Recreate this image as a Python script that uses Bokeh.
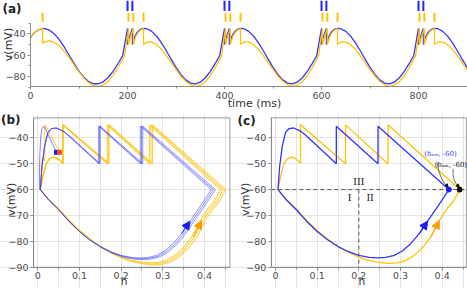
import math
from bokeh.plotting import figure
from bokeh.layouts import column, row
from bokeh.models import FixedTicker, Label, Arrow, NormalHead
from bokeh.embed import file_html
from bokeh.resources import INLINE

BLUE = "#3434ff"
ORANGE = "#ffc20a"
BLUE_DARK = "#1a1aff"
ORANGE_DARK = "#ff9c00"
SPIKE_RED = "#ff4d1a"

# ---------------- panel (a): membrane voltage traces ----------------
time_ticks = [0, 200, 400, 600, 800]
time_minor = [100, 300, 500, 700, 900]
va_ticks = [-80, -60, -40]
va_minor = [-90, -70, -50, -30]
cycle_starts = [200, 400, 600, 800]

blue_init_t = [0, 5, 10, 15, 20, 25, 30, 40, 50, 60, 70, 80, 90, 100, 110, 120, 130, 140, 150, 160, 170, 180, 190]
blue_init_v = [-43.5, -40.5, -38.3, -36.6, -35.5, -35.0, -35.2, -36.8, -40.5, -46.0, -52.8, -60.3, -68.0, -75.0,
               -80.8, -84.8, -86.8, -86.8, -85.0, -81.0, -75.3, -68.3, -60.6]
blue_cycle_tau = [0, 0, 5, 10, 10, 15, 20, 25, 30, 35, 40, 50, 60, 70, 80, 90, 100, 110, 120, 130, 140, 150, 160,
                  170, 180, 190]
blue_cycle_v = [-35.0, -50.0, -41.5, -35.0, -50.0, -42.5, -38.5, -36.3, -35.2, -35.0, -35.3, -37.7, -42.2, -48.5,
                -55.9, -63.8, -71.4, -78.1, -83.2, -86.2, -86.9, -85.3, -81.4, -75.6, -68.5, -60.6]

orange_init_t = [0, 5, 10, 15, 20, 25, 25, 30, 35, 40, 45, 50, 60, 70, 80, 90, 100, 110, 120, 130, 140, 150, 160,
                 170, 180, 190, 194]
orange_init_v = [-43.5, -40.5, -38.3, -36.6, -35.5, -35.0, -49.0, -47.5, -46.8, -46.7, -47.2, -48.3, -51.5, -56.5,
                 -62.5, -69.3, -75.8, -81.5, -85.8, -88.5, -89.2, -88.0, -84.5, -79.0, -71.8, -63.8, -60.5]
orange_cycle_tau = [2, 2, 7, 12, 12, 17, 22, 27, 33, 33, 38, 43, 48, 55, 60, 70, 80, 90, 100, 110, 120, 130, 140,
                    150, 160, 170, 180, 190, 194]
orange_cycle_v = [-35.0, -50.0, -41.5, -35.0, -50.0, -42.5, -38.8, -36.5, -35.0, -50.0, -48.3, -47.5, -47.5, -48.8,
                  -50.2, -54.5, -60.5, -67.0, -73.5, -79.5, -84.5, -87.8, -89.2, -88.2, -85.0, -79.5, -72.5, -64.0,
                  -60.5]

blue_spikes = [200, 210, 400, 410, 600, 610, 800, 810]
orange_spikes = [25, 202, 212, 233, 402, 412, 433, 602, 612, 633, 802, 812, 833]

# ---------------- panels (b), (c): phase plane (h, v) ----------------
h_ticks = [0, 0.1, 0.2, 0.3, 0.4]
h_minor = [0.05, 0.15, 0.25, 0.35, 0.45]
v_ticks = [-90, -80, -70, -60, -50, -40]
v_switch = -60
h_split = 0.2

# spiking / upper part, starting at the right corner
blue_upper_h = [0.416, 0.246, 0.246, 0.146, 0.146, 0.09, 0.076, 0.06, 0.044, 0.032, 0.024, 0.016, 0.01, 0.006]
blue_upper_v = [-60.0, -35.5, -50.0, -35.5, -50.0, -41.6, -39.5, -37.4, -36.2, -36.5, -38.0, -43.4, -51.0, -60.0]
# slow lower arc, left to right
blue_lower_h = [0.006, 0.025, 0.05, 0.075, 0.1, 0.125, 0.15, 0.175, 0.2, 0.225, 0.245, 0.265, 0.285, 0.305, 0.325,
                0.345, 0.365, 0.385, 0.40, 0.416]
blue_lower_v = [-60.0, -63.8, -67.8, -72.3, -76.2, -79.4, -82.0, -84.0, -85.4, -86.2, -86.4, -86.2, -85.4, -83.6,
                -80.8, -77.0, -72.2, -67.5, -64.0, -60.0]

orange_upper_h = [0.442, 0.27, 0.27, 0.168, 0.168, 0.06, 0.06, 0.053, 0.045, 0.036, 0.028, 0.02, 0.012, 0.006]
orange_upper_v = [-60.0, -35.0, -50.0, -35.0, -50.0, -35.0, -50.0, -48.7, -47.8, -47.5, -48.2, -50.0, -55.0, -60.0]
orange_lower_h = [0.006, 0.025, 0.05, 0.075, 0.1, 0.125, 0.15, 0.175, 0.2, 0.225, 0.25, 0.273, 0.293, 0.313, 0.333,
                  0.353, 0.373, 0.393, 0.413, 0.428, 0.442]
orange_lower_v = [-60.0, -63.6, -67.5, -71.9, -75.8, -79.1, -81.9, -84.2, -86.1, -87.4, -88.2, -88.5, -88.3, -87.4,
                  -85.4, -82.4, -78.3, -72.0, -67.1, -64.3, -60.0]

# initial transients in (b)
blue_start_h = [0.045, 0.035, 0.026, 0.019, 0.014, 0.01, 0.007, 0.005, 0.004, 0.0045]
blue_start_v = [-45.6, -42.3, -39.2, -36.8, -35.6, -36.5, -40.0, -46.0, -53.0, -60.0]
orange_start_h = [0.052, 0.04, 0.03, 0.022, 0.017, 0.017, 0.013, 0.01, 0.008, 0.006]
orange_start_v = [-45.6, -41.8, -38.6, -36.2, -35.0, -49.0, -47.5, -48.5, -53.0, -60.0]

# lap-to-lap drift of the trajectories in (b)
blue_laps = [1.0, 1.012, 1.024]
orange_laps = [0.992, 1.006, 1.02]

# axis extents
T_LO, T_HI = 0, 901
VA_LO, VA_HI = -89.4, -8.8
H_LO = -0.01
H_HI_B, H_HI_C = 0.461, 0.458
V_LO, V_HI = -90, -32.3


def trace(init_t, init_v, cyc_t, cyc_v):
    t, v = list(init_t), list(init_v)
    for s in cycle_starts:
        t += [s + x for x in cyc_t]
        v += list(cyc_v)
    return t, v


def lap(uh, uv, lh, lv, f):
    h = [x * f for x in uh] + [x * f for x in lh[1:]]
    v = list(uv) + [v_switch + (y - v_switch) * f for y in lv[1:]]
    return h, v


def style_axes(p):
    for ax in p.axis:
        ax.axis_line_color = "#8c8c8c"
        ax.major_tick_line_color = "#8c8c8c"
        ax.minor_tick_line_color = "#8c8c8c"
        ax.major_tick_out = 3
        ax.major_tick_in = 0
        ax.minor_tick_out = 2
        ax.minor_tick_in = 0
        ax.major_label_text_font = "DejaVu Sans"
        ax.major_label_text_font_size = "9.5px"
        ax.major_label_text_color = "#4d4d4d"
        ax.major_label_standoff = 2


def text(p, s, x, y, size="11px", font="DejaVu Sans", color="#333333", angle=0.0, style="normal",
         align="center"):
    p.add_layout(Label(x=x, y=y, text=s, text_font=font, text_font_size=size, text_color=color,
                       text_font_style=style, text_align=align, text_baseline="middle", angle=angle,
                       angle_units="rad"))


def panel_label(p, s, x, y):
    text(p, s, x, y, size="12px", color="#222222", style="bold", align="left")


def bare_figure(width, height, xr, yr):
    # the frame fills the whole figure; the axes are pinned inside it
    return figure(width=width, height=height, x_range=xr, y_range=yr, output_backend="svg",
                  toolbar_location=None, min_border_left=0, min_border_right=0, min_border_top=0,
                  min_border_bottom=0)


# ---------------- figure (a) ----------------
pa = bare_figure(467, 114, (-61.9, T_HI), (-115.6, VA_HI))
pa.outline_line_color = None
pa.grid.visible = False
pa.xaxis.ticker = FixedTicker(ticks=time_ticks, minor_ticks=time_minor)
pa.yaxis.ticker = FixedTicker(ticks=va_ticks, minor_ticks=va_minor)
pa.yaxis.fixed_location = T_LO
pa.xaxis.fixed_location = VA_LO
pa.yaxis.bounds = (VA_LO, -30)
pa.xaxis.bounds = (T_LO, T_HI)
style_axes(pa)
text(pa, "time (ms)", 461.8, -105.5)
text(pa, "v(mV)", -44.4, -50.0, angle=math.pi / 2)

bt, bv = trace(blue_init_t, blue_init_v, blue_cycle_tau, blue_cycle_v)
ot, ov = trace(orange_init_t, orange_init_v, orange_cycle_tau, orange_cycle_v)
pa.line(bt, bv, color=BLUE, line_width=1.3)
pa.line(ot, ov, color=ORANGE, line_width=1.3)
pa.segment(x0=blue_spikes, y0=-18.6, x1=blue_spikes, y1=VA_HI, color="#2424ff", line_width=2)
pa.segment(x0=orange_spikes, y0=-28.6, x1=orange_spikes, y1=-20.2, color=ORANGE, line_width=2)
panel_label(pa, "(a)", -57.8, -17.2)


# ---------------- figures (b), (c) ----------------
def phase_fig(width, x_left, x_right, h_hi, ylab_x):
    p = bare_figure(width, 174, (x_left, x_right), (-98.2, -31.0))
    p.outline_line_color = None
    p.xaxis.ticker = FixedTicker(ticks=h_ticks, minor_ticks=h_minor)
    p.yaxis.ticker = FixedTicker(ticks=v_ticks)
    p.yaxis.fixed_location = H_LO
    p.xaxis.fixed_location = V_LO
    p.yaxis.bounds = (V_LO, V_HI)
    p.xaxis.bounds = (H_LO, h_hi)
    p.xgrid.grid_line_color = "#e4e4e4"
    p.xgrid.minor_grid_line_color = "#e4e4e4"
    p.xgrid.bounds = (V_LO, V_HI)
    p.ygrid.grid_line_color = "#e4e4e4"
    p.ygrid.bounds = (H_LO, h_hi)
    p.quad(left=H_LO, right=h_hi, bottom=V_LO, top=V_HI, fill_color=None, line_color="#9a9a9a", line_width=1)
    style_axes(p)
    text(p, "h", 0.207, -95.3, size="10.5px")
    text(p, "v(mV)", ylab_x, -63.8, angle=math.pi / 2)
    return p


ib = 16
io = 17


def lower_arrows(p):
    p.add_layout(Arrow(end=NormalHead(size=8, fill_color=BLUE_DARK, line_color=BLUE_DARK),
                       x_start=blue_lower_h[ib - 1], y_start=blue_lower_v[ib - 1],
                       x_end=blue_lower_h[ib], y_end=blue_lower_v[ib], line_color=BLUE_DARK, line_width=1))
    p.add_layout(Arrow(end=NormalHead(size=8, fill_color=ORANGE_DARK, line_color=ORANGE_DARK),
                       x_start=orange_lower_h[io - 1], y_start=orange_lower_v[io - 1],
                       x_end=orange_lower_h[io], y_end=orange_lower_v[io], line_color=ORANGE_DARK, line_width=1))


pb = phase_fig(235, -0.0895, 0.4744, H_HI_B, -0.0631)
for f in orange_laps:
    h, v = lap(orange_upper_h, orange_upper_v, orange_lower_h, orange_lower_v, f)
    pb.line(h, v, color=ORANGE, line_width=1.1, alpha=0.75)
pb.line(orange_start_h, orange_start_v, color=ORANGE, line_width=1.1, alpha=0.75)
for f in blue_laps:
    h, v = lap(blue_upper_h, blue_upper_v, blue_lower_h, blue_lower_v, f)
    pb.line(h, v, color=BLUE, line_width=0.9, alpha=0.6)
pb.line(blue_start_h, blue_start_v, color=BLUE, line_width=0.9, alpha=0.7)
pb.scatter([blue_start_h[0]], [blue_start_v[0]], marker="square", size=4, color="#1a1aff")
pb.scatter([orange_start_h[0]], [orange_start_v[0]], marker="square", size=4, color=SPIKE_RED)
lower_arrows(pb)
panel_label(pb, "(b)", -0.0885, -33.3)

pc = phase_fig(232, -0.096, 0.4608, H_HI_C, -0.072)
pc.line([H_LO, H_HI_C], [v_switch, v_switch], color="#555555", line_width=1, line_dash="4 3")
pc.line([h_split, h_split], [v_switch, V_LO], color="#555555", line_width=1, line_dash="4 3")
oh, ovv = lap(orange_upper_h, orange_upper_v, orange_lower_h, orange_lower_v, 1.0)
pc.line(oh, ovv, color=ORANGE, line_width=1.3)
bh, bvv = lap(blue_upper_h, blue_upper_v, blue_lower_h, blue_lower_v, 1.0)
pc.line(bh, bvv, color=BLUE, line_width=1.3)
lower_arrows(pc)
cb = blue_upper_h[0]
co = orange_upper_h[0]
pc.scatter([cb], [v_switch], size=5, color="#1a1aff")
pc.scatter([co], [v_switch], size=5, color="#000000")

for txt, x, y in [("III", h_split, v_switch + 3.2), ("I", h_split - 0.022, v_switch - 3.0),
                  ("II", h_split + 0.027, v_switch - 3.0)]:
    text(pc, txt, x, y, size="11px", font="Liberation Serif", color="#222222")

text(pc, "(h\u209b\u2098, -60)", cb - 0.02, v_switch + 13.6, size="7px", font="DejaVu Serif", color="#3c3cff")
text(pc, "(h\u209b\u2098, -60)", co - 0.021, v_switch + 9.4, size="7px", font="DejaVu Serif", color="#111111")
pc.quadratic(x0=[cb - 0.028, co - 0.016], y0=[v_switch + 10.4, v_switch + 8.0],
             x1=[cb - 0.002, co - 0.001], y1=[v_switch + 1.0, v_switch + 1.0],
             cx=[cb - 0.022, co - 0.018], cy=[v_switch + 3.5, v_switch + 3.0], line_color="#333333",
             line_width=0.7)
for (x0, y0, x1, y1) in [(cb - 0.010, v_switch + 2.6, cb - 0.002, v_switch + 1.0),
                         (co - 0.010, v_switch + 2.4, co - 0.001, v_switch + 1.0)]:
    pc.add_layout(Arrow(end=NormalHead(size=3, fill_color="#111111", line_color="#111111"),
                        x_start=x0, y_start=y0, x_end=x1, y_end=y1, line_alpha=0))
panel_label(pc, "(c)", -0.091, -33.7)

layout = column(pa, row(pb, pc))
open("out.html", "w").write(file_html(layout, INLINE))
